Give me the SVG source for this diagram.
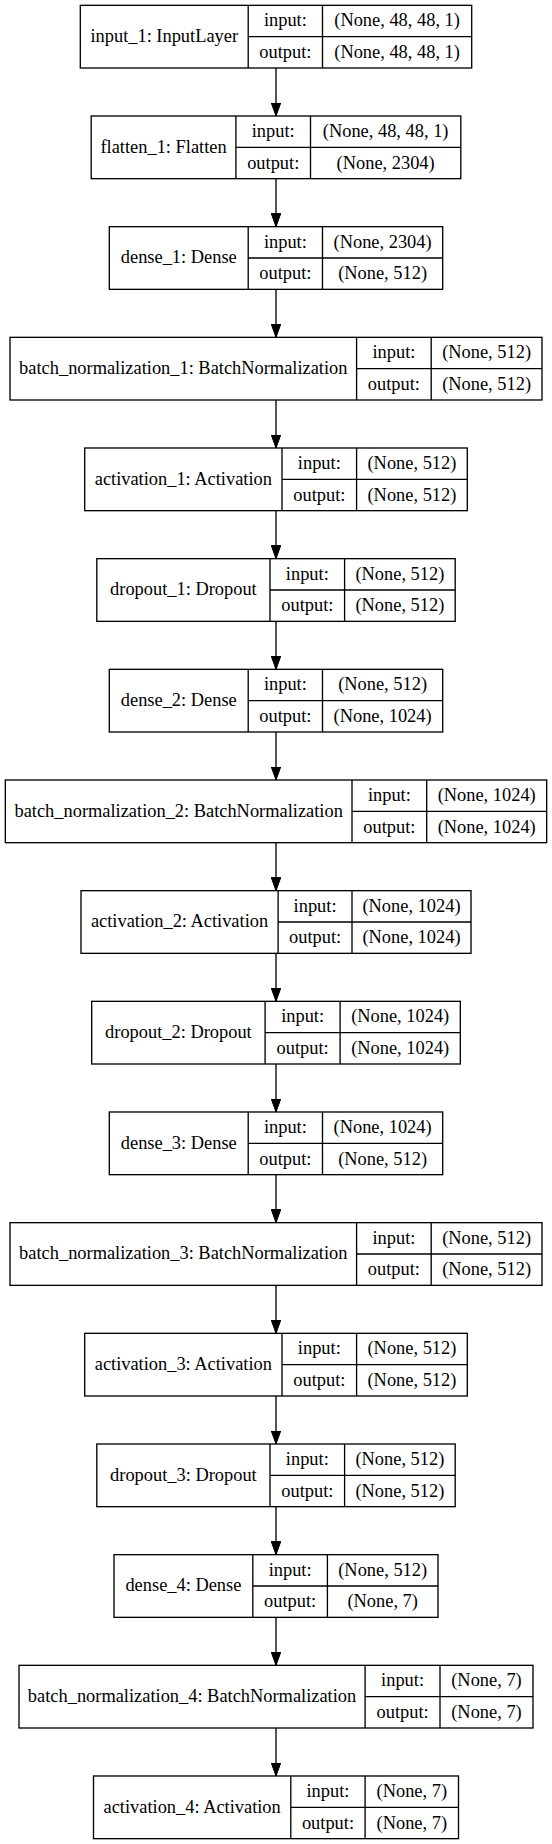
<svg xmlns="http://www.w3.org/2000/svg" width="552" height="1844" viewBox="0 0 552 1844" font-family="Liberation Serif, Times New Roman, serif">
<style>
.b{fill:#fff;stroke:#000;stroke-width:1.33}
.l{stroke:#000;stroke-width:1.33;fill:none}
.t{font-family:'Liberation Serif','Times New Roman',Times,serif;font-size:18.4px;text-anchor:middle;fill:#000}
.e{stroke:#000;stroke-width:1.33;fill:none;marker-end:url(#arr)}
</style>
<defs>
<marker id="arr" markerUnits="userSpaceOnUse" markerWidth="14" markerHeight="10" refX="13.33" refY="5" orient="auto">
<path d="M0,0.2 L13.33,5 L0,9.8 z" fill="#000" stroke="#000" stroke-width="1"/>
</marker>
</defs>
<rect width="552" height="1844" fill="#fff"/>
<g id="connectors">
<line class="e" x1="276" y1="68" x2="276" y2="116"/>
<line class="e" x1="276" y1="178.67" x2="276" y2="226.67"/>
<line class="e" x1="276" y1="289.33" x2="276" y2="337.33"/>
<line class="e" x1="276" y1="400" x2="276" y2="448"/>
<line class="e" x1="276" y1="510.67" x2="276" y2="558.67"/>
<line class="e" x1="276" y1="621.33" x2="276" y2="669.33"/>
<line class="e" x1="276" y1="732" x2="276" y2="780"/>
<line class="e" x1="276" y1="842.67" x2="276" y2="890.67"/>
<line class="e" x1="276" y1="953.33" x2="276" y2="1001.33"/>
<line class="e" x1="276" y1="1064" x2="276" y2="1112"/>
<line class="e" x1="276" y1="1174.67" x2="276" y2="1222.67"/>
<line class="e" x1="276" y1="1285.33" x2="276" y2="1333.33"/>
<line class="e" x1="276" y1="1396" x2="276" y2="1444"/>
<line class="e" x1="276" y1="1506.67" x2="276" y2="1554.67"/>
<line class="e" x1="276" y1="1617.33" x2="276" y2="1665.33"/>
<line class="e" x1="276" y1="1728" x2="276" y2="1776"/>
</g>
<g id="input_1" transform="translate(0,5.33)">
<rect class="b" x="80.3" y="0" width="391.4" height="62.67"/>
<path class="l" d="M248.2,0V62.67M322.5,0V62.67M248.2,31.33H471.7"/>
<text class="t" x="164.25" y="36.5">input_1: InputLayer</text>
<text class="t" x="285.35" y="21">input:</text>
<text class="t" x="285.35" y="52.5">output:</text>
<text class="t" x="397.1" y="21">(None, 48, 48, 1)</text>
<text class="t" x="397.1" y="52.5">(None, 48, 48, 1)</text>
</g>
<g id="flatten_1" transform="translate(0,116)">
<rect class="b" x="91.2" y="0" width="369.6" height="62.67"/>
<path class="l" d="M235.9,0V62.67M310.5,0V62.67M235.9,31.33H460.8"/>
<text class="t" x="163.55" y="36.5">flatten_1: Flatten</text>
<text class="t" x="273.2" y="21">input:</text>
<text class="t" x="273.2" y="52.5">output:</text>
<text class="t" x="385.65" y="21">(None, 48, 48, 1)</text>
<text class="t" x="385.65" y="52.5">(None, 2304)</text>
</g>
<g id="dense_1" transform="translate(0,226.67)">
<rect class="b" x="109.3" y="0" width="333.4" height="62.67"/>
<path class="l" d="M248.2,0V62.67M322.5,0V62.67M248.2,31.33H442.7"/>
<text class="t" x="178.75" y="36.5">dense_1: Dense</text>
<text class="t" x="285.35" y="21">input:</text>
<text class="t" x="285.35" y="52.5">output:</text>
<text class="t" x="382.6" y="21">(None, 2304)</text>
<text class="t" x="382.6" y="52.5">(None, 512)</text>
</g>
<g id="batch_normalization_1" transform="translate(0,337.33)">
<rect class="b" x="10" y="0" width="532" height="62.67"/>
<path class="l" d="M356.6,0V62.67M431.2,0V62.67M356.6,31.33H542"/>
<text class="t" x="183.3" y="36.5">batch_normalization_1: BatchNormalization</text>
<text class="t" x="393.9" y="21">input:</text>
<text class="t" x="393.9" y="52.5">output:</text>
<text class="t" x="486.6" y="21">(None, 512)</text>
<text class="t" x="486.6" y="52.5">(None, 512)</text>
</g>
<g id="activation_1" transform="translate(0,448)">
<rect class="b" x="84.7" y="0" width="382.6" height="62.67"/>
<path class="l" d="M282,0V62.67M356.6,0V62.67M282,31.33H467.3"/>
<text class="t" x="183.35" y="36.5">activation_1: Activation</text>
<text class="t" x="319.3" y="21">input:</text>
<text class="t" x="319.3" y="52.5">output:</text>
<text class="t" x="411.95" y="21">(None, 512)</text>
<text class="t" x="411.95" y="52.5">(None, 512)</text>
</g>
<g id="dropout_1" transform="translate(0,558.67)">
<rect class="b" x="96.8" y="0" width="358.4" height="62.67"/>
<path class="l" d="M270,0V62.67M344.6,0V62.67M270,31.33H455.2"/>
<text class="t" x="183.4" y="36.5">dropout_1: Dropout</text>
<text class="t" x="307.3" y="21">input:</text>
<text class="t" x="307.3" y="52.5">output:</text>
<text class="t" x="399.9" y="21">(None, 512)</text>
<text class="t" x="399.9" y="52.5">(None, 512)</text>
</g>
<g id="dense_2" transform="translate(0,669.33)">
<rect class="b" x="109.3" y="0" width="333.4" height="62.67"/>
<path class="l" d="M248.2,0V62.67M322.5,0V62.67M248.2,31.33H442.7"/>
<text class="t" x="178.75" y="36.5">dense_2: Dense</text>
<text class="t" x="285.35" y="21">input:</text>
<text class="t" x="285.35" y="52.5">output:</text>
<text class="t" x="382.6" y="21">(None, 512)</text>
<text class="t" x="382.6" y="52.5">(None, 1024)</text>
</g>
<g id="batch_normalization_2" transform="translate(0,780)">
<rect class="b" x="5.33" y="0" width="541.34" height="62.67"/>
<path class="l" d="M352,0V62.67M426.7,0V62.67M352,31.33H546.67"/>
<text class="t" x="178.67" y="36.5">batch_normalization_2: BatchNormalization</text>
<text class="t" x="389.35" y="21">input:</text>
<text class="t" x="389.35" y="52.5">output:</text>
<text class="t" x="486.68" y="21">(None, 1024)</text>
<text class="t" x="486.68" y="52.5">(None, 1024)</text>
</g>
<g id="activation_2" transform="translate(0,890.67)">
<rect class="b" x="81" y="0" width="390" height="62.67"/>
<path class="l" d="M278.1,0V62.67M352,0V62.67M278.1,31.33H471"/>
<text class="t" x="179.55" y="36.5">activation_2: Activation</text>
<text class="t" x="315.05" y="21">input:</text>
<text class="t" x="315.05" y="52.5">output:</text>
<text class="t" x="411.5" y="21">(None, 1024)</text>
<text class="t" x="411.5" y="52.5">(None, 1024)</text>
</g>
<g id="dropout_2" transform="translate(0,1001.33)">
<rect class="b" x="91.7" y="0" width="368.6" height="62.67"/>
<path class="l" d="M265.1,0V62.67M340.1,0V62.67M265.1,31.33H460.3"/>
<text class="t" x="178.4" y="36.5">dropout_2: Dropout</text>
<text class="t" x="302.6" y="21">input:</text>
<text class="t" x="302.6" y="52.5">output:</text>
<text class="t" x="400.2" y="21">(None, 1024)</text>
<text class="t" x="400.2" y="52.5">(None, 1024)</text>
</g>
<g id="dense_3" transform="translate(0,1112)">
<rect class="b" x="109.3" y="0" width="333.4" height="62.67"/>
<path class="l" d="M248.2,0V62.67M322.5,0V62.67M248.2,31.33H442.7"/>
<text class="t" x="178.75" y="36.5">dense_3: Dense</text>
<text class="t" x="285.35" y="21">input:</text>
<text class="t" x="285.35" y="52.5">output:</text>
<text class="t" x="382.6" y="21">(None, 1024)</text>
<text class="t" x="382.6" y="52.5">(None, 512)</text>
</g>
<g id="batch_normalization_3" transform="translate(0,1222.67)">
<rect class="b" x="10" y="0" width="532" height="62.67"/>
<path class="l" d="M356.6,0V62.67M431.2,0V62.67M356.6,31.33H542"/>
<text class="t" x="183.3" y="36.5">batch_normalization_3: BatchNormalization</text>
<text class="t" x="393.9" y="21">input:</text>
<text class="t" x="393.9" y="52.5">output:</text>
<text class="t" x="486.6" y="21">(None, 512)</text>
<text class="t" x="486.6" y="52.5">(None, 512)</text>
</g>
<g id="activation_3" transform="translate(0,1333.33)">
<rect class="b" x="84.7" y="0" width="382.6" height="62.67"/>
<path class="l" d="M282,0V62.67M356.6,0V62.67M282,31.33H467.3"/>
<text class="t" x="183.35" y="36.5">activation_3: Activation</text>
<text class="t" x="319.3" y="21">input:</text>
<text class="t" x="319.3" y="52.5">output:</text>
<text class="t" x="411.95" y="21">(None, 512)</text>
<text class="t" x="411.95" y="52.5">(None, 512)</text>
</g>
<g id="dropout_3" transform="translate(0,1444)">
<rect class="b" x="96.8" y="0" width="358.4" height="62.67"/>
<path class="l" d="M270,0V62.67M344.6,0V62.67M270,31.33H455.2"/>
<text class="t" x="183.4" y="36.5">dropout_3: Dropout</text>
<text class="t" x="307.3" y="21">input:</text>
<text class="t" x="307.3" y="52.5">output:</text>
<text class="t" x="399.9" y="21">(None, 512)</text>
<text class="t" x="399.9" y="52.5">(None, 512)</text>
</g>
<g id="dense_4" transform="translate(0,1554.67)">
<rect class="b" x="114" y="0" width="324" height="62.67"/>
<path class="l" d="M252.8,0V62.67M327.4,0V62.67M252.8,31.33H438"/>
<text class="t" x="183.4" y="36.5">dense_4: Dense</text>
<text class="t" x="290.1" y="21">input:</text>
<text class="t" x="290.1" y="52.5">output:</text>
<text class="t" x="382.7" y="21">(None, 512)</text>
<text class="t" x="382.7" y="52.5">(None, 7)</text>
</g>
<g id="batch_normalization_4" transform="translate(0,1665.33)">
<rect class="b" x="19" y="0" width="514" height="62.67"/>
<path class="l" d="M365.1,0V62.67M440,0V62.67M365.1,31.33H533"/>
<text class="t" x="192.05" y="36.5">batch_normalization_4: BatchNormalization</text>
<text class="t" x="402.55" y="21">input:</text>
<text class="t" x="402.55" y="52.5">output:</text>
<text class="t" x="486.5" y="21">(None, 7)</text>
<text class="t" x="486.5" y="52.5">(None, 7)</text>
</g>
<g id="activation_4" transform="translate(0,1776)">
<rect class="b" x="93.5" y="0" width="365" height="62.67"/>
<path class="l" d="M290.8,0V62.67M365.1,0V62.67M290.8,31.33H458.5"/>
<text class="t" x="192.15" y="36.5">activation_4: Activation</text>
<text class="t" x="327.95" y="21">input:</text>
<text class="t" x="327.95" y="52.5">output:</text>
<text class="t" x="411.8" y="21">(None, 7)</text>
<text class="t" x="411.8" y="52.5">(None, 7)</text>
</g>
</svg>
